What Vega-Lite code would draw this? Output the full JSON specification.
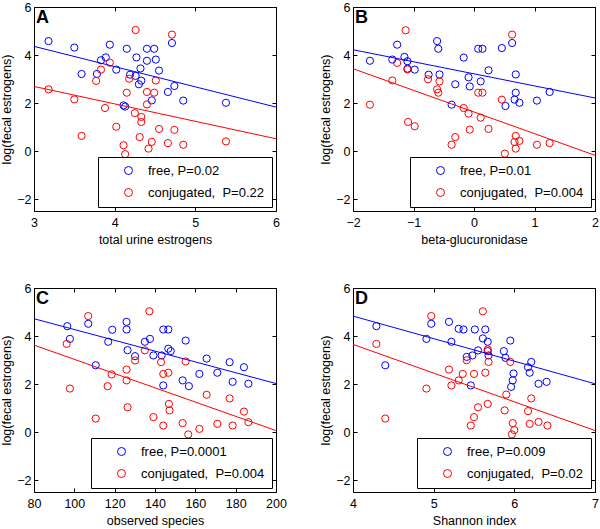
{
  "$schema": "https://vega.github.io/schema/vega-lite/v6.json",
  "padding": {"left": 0, "top": 0, "right": 0, "bottom": 0},
  "background": "white",
  "datasets": {
    "A_pts": [
      {"x":3.18,"y":4.58,"g":"free, P=0.02"},{"x":3.50,"y":4.31,"g":"free, P=0.02"},{"x":3.94,"y":4.43,"g":"free, P=0.02"},{"x":4.15,"y":4.26,"g":"free, P=0.02"},{"x":4.40,"y":4.26,"g":"free, P=0.02"},{"x":4.49,"y":4.26,"g":"free, P=0.02"},{"x":4.71,"y":4.50,"g":"free, P=0.02"},{"x":4.27,"y":3.90,"g":"free, P=0.02"},{"x":4.40,"y":3.76,"g":"free, P=0.02"},{"x":4.51,"y":3.81,"g":"free, P=0.02"},{"x":3.83,"y":3.78,"g":"free, P=0.02"},{"x":3.89,"y":3.90,"g":"free, P=0.02"},{"x":3.59,"y":3.21,"g":"free, P=0.02"},{"x":3.78,"y":3.21,"g":"free, P=0.02"},{"x":4.02,"y":3.39,"g":"free, P=0.02"},{"x":4.32,"y":3.44,"g":"free, P=0.02"},{"x":4.55,"y":3.35,"g":"free, P=0.02"},{"x":4.19,"y":3.18,"g":"free, P=0.02"},{"x":4.26,"y":3.13,"g":"free, P=0.02"},{"x":4.33,"y":2.93,"g":"free, P=0.02"},{"x":4.30,"y":2.78,"g":"free, P=0.02"},{"x":4.66,"y":2.46,"g":"free, P=0.02"},{"x":4.74,"y":2.71,"g":"free, P=0.02"},{"x":4.46,"y":2.11,"g":"free, P=0.02"},{"x":4.85,"y":2.10,"g":"free, P=0.02"},{"x":5.38,"y":2.01,"g":"free, P=0.02"},{"x":4.11,"y":1.90,"g":"free, P=0.02"},{"x":4.13,"y":1.85,"g":"free, P=0.02"},
      {"x":4.26,"y":5.04,"g":"conjugated,  P=0.22"},{"x":4.71,"y":4.85,"g":"conjugated,  P=0.22"},{"x":3.94,"y":3.68,"g":"conjugated,  P=0.22"},{"x":3.83,"y":3.39,"g":"conjugated,  P=0.22"},{"x":3.77,"y":2.92,"g":"conjugated,  P=0.22"},{"x":4.18,"y":3.01,"g":"conjugated,  P=0.22"},{"x":4.51,"y":2.94,"g":"conjugated,  P=0.22"},{"x":3.18,"y":2.57,"g":"conjugated,  P=0.22"},{"x":4.15,"y":2.43,"g":"conjugated,  P=0.22"},{"x":4.40,"y":2.46,"g":"conjugated,  P=0.22"},{"x":4.49,"y":2.43,"g":"conjugated,  P=0.22"},{"x":3.50,"y":2.15,"g":"conjugated,  P=0.22"},{"x":3.88,"y":1.79,"g":"conjugated,  P=0.22"},{"x":4.40,"y":1.94,"g":"conjugated,  P=0.22"},{"x":4.25,"y":1.58,"g":"conjugated,  P=0.22"},{"x":4.33,"y":1.42,"g":"conjugated,  P=0.22"},{"x":4.33,"y":1.21,"g":"conjugated,  P=0.22"},{"x":4.02,"y":1.01,"g":"conjugated,  P=0.22"},{"x":4.55,"y":0.92,"g":"conjugated,  P=0.22"},{"x":4.74,"y":0.88,"g":"conjugated,  P=0.22"},{"x":3.59,"y":0.63,"g":"conjugated,  P=0.22"},{"x":4.31,"y":0.58,"g":"conjugated,  P=0.22"},{"x":4.46,"y":0.38,"g":"conjugated,  P=0.22"},{"x":4.42,"y":0.10,"g":"conjugated,  P=0.22"},{"x":4.11,"y":0.24,"g":"conjugated,  P=0.22"},{"x":4.13,"y":-0.13,"g":"conjugated,  P=0.22"},{"x":4.66,"y":0.33,"g":"conjugated,  P=0.22"},{"x":4.85,"y":0.26,"g":"conjugated,  P=0.22"},{"x":5.38,"y":0.40,"g":"conjugated,  P=0.22"}
    ],
    "A_lines": [
      {"x":3,"y":4.36,"g":"free, P=0.02"},{"x":6,"y":1.83,"g":"free, P=0.02"},
      {"x":3,"y":2.69,"g":"conjugated,  P=0.22"},{"x":6,"y":0.51,"g":"conjugated,  P=0.22"}
    ],
    "B_pts": [
      {"x":-1.72,"y":3.76,"g":"free, P=0.01"},{"x":-1.35,"y":3.81,"g":"free, P=0.01"},{"x":-1.27,"y":4.43,"g":"free, P=0.01"},{"x":-1.15,"y":3.92,"g":"free, P=0.01"},{"x":-1.10,"y":3.74,"g":"free, P=0.01"},{"x":-1.10,"y":3.43,"g":"free, P=0.01"},{"x":-0.98,"y":3.39,"g":"free, P=0.01"},{"x":-0.75,"y":3.18,"g":"free, P=0.01"},{"x":-0.57,"y":3.19,"g":"free, P=0.01"},{"x":-0.61,"y":4.58,"g":"free, P=0.01"},{"x":-0.59,"y":4.26,"g":"free, P=0.01"},{"x":-0.37,"y":1.93,"g":"free, P=0.01"},{"x":-0.31,"y":2.78,"g":"free, P=0.01"},{"x":-0.17,"y":3.89,"g":"free, P=0.01"},{"x":-0.09,"y":3.07,"g":"free, P=0.01"},{"x":-0.07,"y":2.69,"g":"free, P=0.01"},{"x":0.07,"y":4.26,"g":"free, P=0.01"},{"x":0.14,"y":4.26,"g":"free, P=0.01"},{"x":0.11,"y":2.90,"g":"free, P=0.01"},{"x":0.24,"y":3.36,"g":"free, P=0.01"},{"x":0.46,"y":4.29,"g":"free, P=0.01"},{"x":0.63,"y":4.50,"g":"free, P=0.01"},{"x":0.69,"y":3.19,"g":"free, P=0.01"},{"x":0.69,"y":2.43,"g":"free, P=0.01"},{"x":0.67,"y":2.14,"g":"free, P=0.01"},{"x":0.75,"y":2.01,"g":"free, P=0.01"},{"x":0.52,"y":1.875,"g":"free, P=0.01"},{"x":1.04,"y":2.10,"g":"free, P=0.01"},{"x":1.25,"y":2.46,"g":"free, P=0.01"},
      {"x":-1.13,"y":5.03,"g":"conjugated,  P=0.004"},{"x":0.63,"y":4.85,"g":"conjugated,  P=0.004"},{"x":-1.27,"y":3.67,"g":"conjugated,  P=0.004"},{"x":-1.10,"y":3.40,"g":"conjugated,  P=0.004"},{"x":-1.35,"y":2.94,"g":"conjugated,  P=0.004"},{"x":-0.76,"y":2.99,"g":"conjugated,  P=0.004"},{"x":-0.57,"y":2.90,"g":"conjugated,  P=0.004"},{"x":-0.61,"y":2.57,"g":"conjugated,  P=0.004"},{"x":-0.59,"y":2.43,"g":"conjugated,  P=0.004"},{"x":-1.72,"y":1.93,"g":"conjugated,  P=0.004"},{"x":-0.17,"y":1.79,"g":"conjugated,  P=0.004"},{"x":-0.09,"y":1.56,"g":"conjugated,  P=0.004"},{"x":0.11,"y":1.39,"g":"conjugated,  P=0.004"},{"x":0.07,"y":2.43,"g":"conjugated,  P=0.004"},{"x":0.14,"y":2.43,"g":"conjugated,  P=0.004"},{"x":0.46,"y":2.14,"g":"conjugated,  P=0.004"},{"x":-1.09,"y":1.21,"g":"conjugated,  P=0.004"},{"x":-0.98,"y":1.03,"g":"conjugated,  P=0.004"},{"x":-0.07,"y":0.89,"g":"conjugated,  P=0.004"},{"x":0.24,"y":0.92,"g":"conjugated,  P=0.004"},{"x":-0.31,"y":0.58,"g":"conjugated,  P=0.004"},{"x":-0.37,"y":0.26,"g":"conjugated,  P=0.004"},{"x":0.69,"y":0.63,"g":"conjugated,  P=0.004"},{"x":0.67,"y":0.375,"g":"conjugated,  P=0.004"},{"x":0.75,"y":0.42,"g":"conjugated,  P=0.004"},{"x":0.69,"y":0.10,"g":"conjugated,  P=0.004"},{"x":0.51,"y":-0.11,"g":"conjugated,  P=0.004"},{"x":1.04,"y":0.26,"g":"conjugated,  P=0.004"},{"x":1.25,"y":0.33,"g":"conjugated,  P=0.004"}
    ],
    "B_lines": [
      {"x":-2,"y":4.22,"g":"free, P=0.01"},{"x":2,"y":2.21,"g":"free, P=0.01"},
      {"x":-2,"y":3.43,"g":"conjugated,  P=0.004"},{"x":2,"y":-0.18,"g":"conjugated,  P=0.004"}
    ],
    "C_pts": [
      {"x":96.5,"y":4.41,"g":"free, P=0.0001"},{"x":97.8,"y":3.88,"g":"free, P=0.0001"},{"x":106.9,"y":4.51,"g":"free, P=0.0001"},{"x":110.6,"y":2.78,"g":"free, P=0.0001"},{"x":116.8,"y":3.76,"g":"free, P=0.0001"},{"x":118.8,"y":4.26,"g":"free, P=0.0001"},{"x":125.9,"y":4.59,"g":"free, P=0.0001"},{"x":125.9,"y":4.27,"g":"free, P=0.0001"},{"x":126.4,"y":3.41,"g":"free, P=0.0001"},{"x":130.1,"y":3.16,"g":"free, P=0.0001"},{"x":135.0,"y":3.76,"g":"free, P=0.0001"},{"x":137.5,"y":3.88,"g":"free, P=0.0001"},{"x":139.2,"y":3.19,"g":"free, P=0.0001"},{"x":143.3,"y":3.19,"g":"free, P=0.0001"},{"x":144.1,"y":4.27,"g":"free, P=0.0001"},{"x":146.6,"y":4.27,"g":"free, P=0.0001"},{"x":146.6,"y":3.47,"g":"free, P=0.0001"},{"x":147.8,"y":3.37,"g":"free, P=0.0001"},{"x":144.1,"y":1.94,"g":"free, P=0.0001"},{"x":153.7,"y":2.15,"g":"free, P=0.0001"},{"x":156.8,"y":1.91,"g":"free, P=0.0001"},{"x":155.2,"y":3.81,"g":"free, P=0.0001"},{"x":162.0,"y":2.42,"g":"free, P=0.0001"},{"x":165.6,"y":3.06,"g":"free, P=0.0001"},{"x":170.9,"y":2.47,"g":"free, P=0.0001"},{"x":177.0,"y":2.91,"g":"free, P=0.0001"},{"x":178.5,"y":2.09,"g":"free, P=0.0001"},{"x":184.1,"y":2.70,"g":"free, P=0.0001"},{"x":186.3,"y":2.01,"g":"free, P=0.0001"},
      {"x":106.9,"y":4.83,"g":"conjugated,  P=0.004"},{"x":137.2,"y":5.03,"g":"conjugated,  P=0.004"},{"x":96.2,"y":3.67,"g":"conjugated,  P=0.004"},{"x":135.0,"y":3.40,"g":"conjugated,  P=0.004"},{"x":130.1,"y":2.98,"g":"conjugated,  P=0.004"},{"x":143.0,"y":2.91,"g":"conjugated,  P=0.004"},{"x":155.2,"y":2.94,"g":"conjugated,  P=0.004"},{"x":125.9,"y":2.60,"g":"conjugated,  P=0.004"},{"x":125.9,"y":2.15,"g":"conjugated,  P=0.004"},{"x":118.5,"y":2.40,"g":"conjugated,  P=0.004"},{"x":116.5,"y":1.91,"g":"conjugated,  P=0.004"},{"x":97.8,"y":1.81,"g":"conjugated,  P=0.004"},{"x":144.1,"y":2.42,"g":"conjugated,  P=0.004"},{"x":146.6,"y":2.47,"g":"conjugated,  P=0.004"},{"x":165.6,"y":1.55,"g":"conjugated,  P=0.004"},{"x":177.0,"y":1.40,"g":"conjugated,  P=0.004"},{"x":126.4,"y":1.03,"g":"conjugated,  P=0.004"},{"x":146.9,"y":1.17,"g":"conjugated,  P=0.004"},{"x":147.2,"y":0.90,"g":"conjugated,  P=0.004"},{"x":184.1,"y":0.85,"g":"conjugated,  P=0.004"},{"x":110.6,"y":0.56,"g":"conjugated,  P=0.004"},{"x":139.2,"y":0.62,"g":"conjugated,  P=0.004"},{"x":153.7,"y":0.37,"g":"conjugated,  P=0.004"},{"x":144.1,"y":0.27,"g":"conjugated,  P=0.004"},{"x":162.0,"y":0.13,"g":"conjugated,  P=0.004"},{"x":170.9,"y":0.34,"g":"conjugated,  P=0.004"},{"x":178.5,"y":0.27,"g":"conjugated,  P=0.004"},{"x":186.3,"y":0.41,"g":"conjugated,  P=0.004"},{"x":156.5,"y":-0.10,"g":"conjugated,  P=0.004"}
    ],
    "C_lines": [
      {"x":80,"y":4.72,"g":"free, P=0.0001"},{"x":200,"y":2.02,"g":"free, P=0.0001"},
      {"x":80,"y":3.62,"g":"conjugated,  P=0.004"},{"x":200,"y":0.06,"g":"conjugated,  P=0.004"}
    ],
    "D_pts": [
      {"x":4.29,"y":4.41,"g":"free, P=0.009"},{"x":4.40,"y":2.78,"g":"free, P=0.009"},{"x":4.91,"y":3.88,"g":"free, P=0.009"},{"x":4.97,"y":4.51,"g":"free, P=0.009"},{"x":5.19,"y":4.59,"g":"free, P=0.009"},{"x":5.22,"y":3.76,"g":"free, P=0.009"},{"x":5.31,"y":4.30,"g":"free, P=0.009"},{"x":5.37,"y":4.27,"g":"free, P=0.009"},{"x":5.41,"y":3.13,"g":"free, P=0.009"},{"x":5.48,"y":3.19,"g":"free, P=0.009"},{"x":5.51,"y":4.27,"g":"free, P=0.009"},{"x":5.55,"y":3.40,"g":"free, P=0.009"},{"x":5.46,"y":1.94,"g":"free, P=0.009"},{"x":5.61,"y":3.90,"g":"free, P=0.009"},{"x":5.64,"y":4.27,"g":"free, P=0.009"},{"x":5.67,"y":3.76,"g":"free, P=0.009"},{"x":5.67,"y":3.37,"g":"free, P=0.009"},{"x":5.68,"y":3.19,"g":"free, P=0.009"},{"x":5.87,"y":3.37,"g":"free, P=0.009"},{"x":5.89,"y":3.09,"g":"free, P=0.009"},{"x":5.95,"y":3.81,"g":"free, P=0.009"},{"x":5.99,"y":2.44,"g":"free, P=0.009"},{"x":5.98,"y":2.15,"g":"free, P=0.009"},{"x":5.96,"y":1.88,"g":"free, P=0.009"},{"x":6.17,"y":2.70,"g":"free, P=0.009"},{"x":6.19,"y":2.47,"g":"free, P=0.009"},{"x":6.21,"y":2.92,"g":"free, P=0.009"},{"x":6.30,"y":2.01,"g":"free, P=0.009"},{"x":6.40,"y":2.09,"g":"free, P=0.009"},
      {"x":4.97,"y":4.83,"g":"conjugated,  P=0.02"},{"x":5.61,"y":5.03,"g":"conjugated,  P=0.02"},{"x":4.29,"y":3.67,"g":"conjugated,  P=0.02"},{"x":5.41,"y":2.99,"g":"conjugated,  P=0.02"},{"x":5.67,"y":3.44,"g":"conjugated,  P=0.02"},{"x":5.68,"y":2.92,"g":"conjugated,  P=0.02"},{"x":5.95,"y":2.92,"g":"conjugated,  P=0.02"},{"x":5.19,"y":2.60,"g":"conjugated,  P=0.02"},{"x":5.36,"y":2.42,"g":"conjugated,  P=0.02"},{"x":5.50,"y":2.42,"g":"conjugated,  P=0.02"},{"x":5.64,"y":2.47,"g":"conjugated,  P=0.02"},{"x":5.31,"y":2.15,"g":"conjugated,  P=0.02"},{"x":5.22,"y":1.94,"g":"conjugated,  P=0.02"},{"x":4.91,"y":1.81,"g":"conjugated,  P=0.02"},{"x":5.90,"y":1.56,"g":"conjugated,  P=0.02"},{"x":6.21,"y":1.40,"g":"conjugated,  P=0.02"},{"x":5.67,"y":1.17,"g":"conjugated,  P=0.02"},{"x":5.55,"y":1.03,"g":"conjugated,  P=0.02"},{"x":5.88,"y":0.90,"g":"conjugated,  P=0.02"},{"x":6.17,"y":0.87,"g":"conjugated,  P=0.02"},{"x":4.40,"y":0.56,"g":"conjugated,  P=0.02"},{"x":5.50,"y":0.62,"g":"conjugated,  P=0.02"},{"x":5.46,"y":0.27,"g":"conjugated,  P=0.02"},{"x":5.98,"y":0.37,"g":"conjugated,  P=0.02"},{"x":6.19,"y":0.34,"g":"conjugated,  P=0.02"},{"x":6.30,"y":0.42,"g":"conjugated,  P=0.02"},{"x":6.41,"y":0.27,"g":"conjugated,  P=0.02"},{"x":5.97,"y":-0.10,"g":"conjugated,  P=0.02"},{"x":6.00,"y":0.08,"g":"conjugated,  P=0.02"}
    ],
    "D_lines": [
      {"x":4,"y":4.83,"g":"free, P=0.009"},{"x":7,"y":2.01,"g":"free, P=0.009"},
      {"x":4,"y":3.65,"g":"conjugated,  P=0.02"},{"x":7,"y":0.06,"g":"conjugated,  P=0.02"}
    ]
  },
  "columns": 2,
  "spacing": {"row": 34, "column": 32},
  "resolve": {"scale": {"color": "independent"}, "legend": {"color": "independent"}},
  "concat": [
    {
      "width": 242, "height": 204,
      "layer": [
        {"data": {"name": "A_pts"}, "mark": "point",
         "encoding": {
           "x": {"field": "x", "type": "quantitative", "scale": {"domain": [3, 6], "nice": false, "zero": false}, "axis": {"values": [3, 4, 5, 6], "title": "total urine estrogens"}},
           "y": {"field": "y", "type": "quantitative", "scale": {"domain": [-2.5, 6], "nice": false, "zero": false}, "axis": {"values": [-2, 0, 2, 4, 6], "title": "log(fecal estrogens)"}},
           "color": {"field": "g", "type": "nominal", "scale": {"domain": ["free, P=0.02", "conjugated,  P=0.22"], "range": ["#0000ff", "#ff0000"]}, "legend": {"title": null, "labelExpr": "replace(datum.label, ',  ', ',\u00a0\u00a0')"}}
         }},
        {"data": {"name": "A_lines"}, "mark": "line",
         "encoding": {
           "x": {"field": "x", "type": "quantitative", "axis": {"orient": "top", "values": [3, 4, 5, 6], "labels": false, "title": null}},
           "y": {"field": "y", "type": "quantitative", "axis": {"orient": "right", "values": [-2, 0, 2, 4, 6], "labels": false, "title": null}},
           "color": {"field": "g", "type": "nominal", "legend": null}
         }},
        {"data": {"values": [{"p": "A"}]}, "mark": {"type": "text", "align": "left", "baseline": "top", "dx": 2, "dy": 2, "fontSize": 18, "fontWeight": "bold", "color": "black"},
         "encoding": {"x": {"datum": 3, "axis": null}, "y": {"datum": 6, "axis": null}, "text": {"field": "p"}}}
      ],
      "resolve": {"axis": {"x": "independent", "y": "independent"}}
    },
    {
      "width": 242, "height": 204,
      "layer": [
        {"data": {"name": "B_pts"}, "mark": "point",
         "encoding": {
           "x": {"field": "x", "type": "quantitative", "scale": {"domain": [-2, 2], "nice": false, "zero": false}, "axis": {"values": [-2, -1, 0, 1, 2], "title": "beta-glucuronidase"}},
           "y": {"field": "y", "type": "quantitative", "scale": {"domain": [-2.5, 6], "nice": false, "zero": false}, "axis": {"values": [-2, 0, 2, 4, 6], "title": "log(fecal estrogens)"}},
           "color": {"field": "g", "type": "nominal", "scale": {"domain": ["free, P=0.01", "conjugated,  P=0.004"], "range": ["#0000ff", "#ff0000"]}, "legend": {"title": null, "labelExpr": "replace(datum.label, ',  ', ',\u00a0\u00a0')"}}
         }},
        {"data": {"name": "B_lines"}, "mark": "line",
         "encoding": {
           "x": {"field": "x", "type": "quantitative", "axis": {"orient": "top", "values": [-2, -1, 0, 1, 2], "labels": false, "title": null}},
           "y": {"field": "y", "type": "quantitative", "axis": {"orient": "right", "values": [-2, 0, 2, 4, 6], "labels": false, "title": null}},
           "color": {"field": "g", "type": "nominal", "legend": null}
         }},
        {"data": {"values": [{"p": "B"}]}, "mark": {"type": "text", "align": "left", "baseline": "top", "dx": 2, "dy": 2, "fontSize": 18, "fontWeight": "bold", "color": "black"},
         "encoding": {"x": {"datum": -2, "axis": null}, "y": {"datum": 6, "axis": null}, "text": {"field": "p"}}}
      ],
      "resolve": {"axis": {"x": "independent", "y": "independent"}}
    },
    {
      "width": 242, "height": 204,
      "layer": [
        {"data": {"name": "C_pts"}, "mark": "point",
         "encoding": {
           "x": {"field": "x", "type": "quantitative", "scale": {"domain": [80, 200], "nice": false, "zero": false}, "axis": {"values": [80, 100, 120, 140, 160, 180, 200], "title": "observed species"}},
           "y": {"field": "y", "type": "quantitative", "scale": {"domain": [-2.5, 6], "nice": false, "zero": false}, "axis": {"values": [-2, 0, 2, 4, 6], "title": "log(fecal estrogens)"}},
           "color": {"field": "g", "type": "nominal", "scale": {"domain": ["free, P=0.0001", "conjugated,  P=0.004"], "range": ["#0000ff", "#ff0000"]}, "legend": {"title": null, "labelExpr": "replace(datum.label, ',  ', ',\u00a0\u00a0')"}}
         }},
        {"data": {"name": "C_lines"}, "mark": "line",
         "encoding": {
           "x": {"field": "x", "type": "quantitative", "axis": {"orient": "top", "values": [80, 100, 120, 140, 160, 180, 200], "labels": false, "title": null}},
           "y": {"field": "y", "type": "quantitative", "axis": {"orient": "right", "values": [-2, 0, 2, 4, 6], "labels": false, "title": null}},
           "color": {"field": "g", "type": "nominal", "legend": null}
         }},
        {"data": {"values": [{"p": "C"}]}, "mark": {"type": "text", "align": "left", "baseline": "top", "dx": 2, "dy": 2, "fontSize": 18, "fontWeight": "bold", "color": "black"},
         "encoding": {"x": {"datum": 80, "axis": null}, "y": {"datum": 6, "axis": null}, "text": {"field": "p"}}}
      ],
      "resolve": {"axis": {"x": "independent", "y": "independent"}}
    },
    {
      "width": 242, "height": 204,
      "layer": [
        {"data": {"name": "D_pts"}, "mark": "point",
         "encoding": {
           "x": {"field": "x", "type": "quantitative", "scale": {"domain": [4, 7], "nice": false, "zero": false}, "axis": {"values": [4, 5, 6, 7], "title": "Shannon index"}},
           "y": {"field": "y", "type": "quantitative", "scale": {"domain": [-2.5, 6], "nice": false, "zero": false}, "axis": {"values": [-2, 0, 2, 4, 6], "title": "log(fecal estrogens)"}},
           "color": {"field": "g", "type": "nominal", "scale": {"domain": ["free, P=0.009", "conjugated,  P=0.02"], "range": ["#0000ff", "#ff0000"]}, "legend": {"title": null, "labelExpr": "replace(datum.label, ',  ', ',\u00a0\u00a0')"}}
         }},
        {"data": {"name": "D_lines"}, "mark": "line",
         "encoding": {
           "x": {"field": "x", "type": "quantitative", "axis": {"orient": "top", "values": [4, 5, 6, 7], "labels": false, "title": null}},
           "y": {"field": "y", "type": "quantitative", "axis": {"orient": "right", "values": [-2, 0, 2, 4, 6], "labels": false, "title": null}},
           "color": {"field": "g", "type": "nominal", "legend": null}
         }},
        {"data": {"values": [{"p": "D"}]}, "mark": {"type": "text", "align": "left", "baseline": "top", "dx": 2, "dy": 2, "fontSize": 18, "fontWeight": "bold", "color": "black"},
         "encoding": {"x": {"datum": 4, "axis": null}, "y": {"datum": 6, "axis": null}, "text": {"field": "p"}}}
      ],
      "resolve": {"axis": {"x": "independent", "y": "independent"}}
    }
  ],
  "config": {
    "font": "Liberation Sans",
    "view": {"stroke": "black", "strokeWidth": 1},
    "axis": {"grid": false, "domain": false, "tickSize": -4, "tickColor": "black", "tickWidth": 1, "labelColor": "black", "titleColor": "black", "labelFontSize": 12.5, "titleFontSize": 12.5, "titleFontWeight": "normal", "labelPadding": 9, "labelFlush": false, "labelOverlap": false, "titlePadding": 5, "labelFont": "Liberation Sans", "titleFont": "Liberation Sans"},
    "axisY": {"labelPadding": 7, "titlePadding": 3},
    "legend": {"orient": "bottom-right", "offset": 4, "strokeColor": "black", "fillColor": "white", "padding": 7, "symbolOffset": 17, "labelOffset": 13, "rowPadding": 8, "labelFontSize": 13, "labelColor": "black", "labelFont": "Liberation Sans", "labelLimit": 300, "symbolType": "circle", "symbolSize": 64, "symbolStrokeWidth": 1, "cornerRadius": 0},
    "point": {"shape": "circle", "filled": false, "size": 52, "strokeWidth": 1, "opacity": 1},
    "line": {"strokeWidth": 1}
  }
}
